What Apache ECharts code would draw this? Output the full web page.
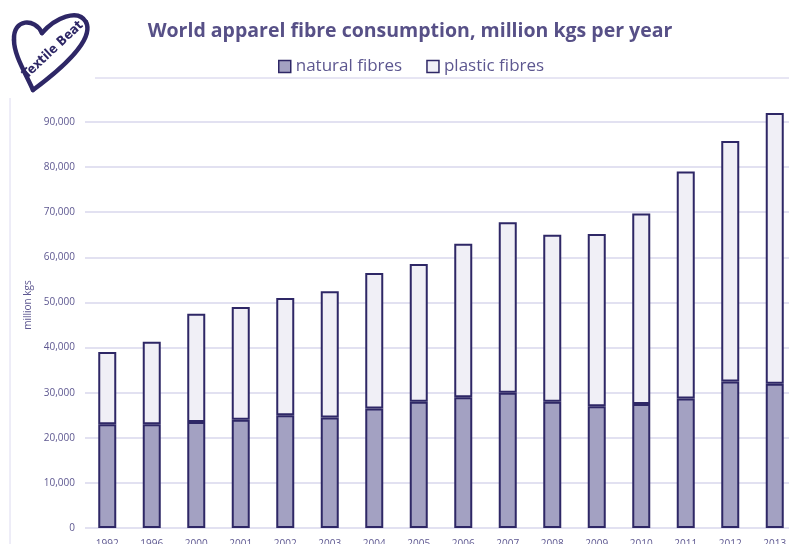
<!DOCTYPE html>
<html style="height: 100%">
<head>
<meta charset="utf-8">
<script type="text/javascript" src="https://cdn.jsdelivr.net/npm/echarts@6/dist/echarts.min.js"></script>
</head>
<body style="height: 100%; margin: 0; background: #fff">
<div id="container" style="width: 789px; height: 544px"></div>
<script type="text/javascript">
var years = ['1992', '1996', '2000', '2001', '2002', '2003', '2004', '2005',
  '2006', '2007', '2008', '2009', '2010', '2011', '2012', '2013'];
var natural = [23000, 23000, 23500, 24000, 25000, 24500, 26500, 28000,
  29000, 30000, 28000, 27000, 27500, 28700, 32500, 32000];
var totals = [39000, 41300, 47500, 49000, 51000, 52500, 56500, 58500,
  63000, 67800, 65000, 65200, 69700, 79000, 85800, 92000];
var plastic = totals.map(function (t, i) { return t - natural[i]; });

var ink = '#2e2766';
var textCol = '#5d5790';

// heart logo outline, drawn as a few bezier pieces
var heart = [
  [33, 90, 14, 40, 25, 72, 14, 55],
  [14, 40, 42, 33, 13, 18, 35, 18],
  [42, 33, 86, 22, 55, 18, 78, 8],
  [86, 22, 33, 90, 95, 40, 60, 70]
];
var logo = heart.map(function (c) {
  return {
    type: 'bezierCurve',
    shape: { x1: c[0], y1: c[1], x2: c[2], y2: c[3], cpx1: c[4], cpy1: c[5], cpx2: c[6], cpy2: c[7] },
    style: { stroke: ink, lineWidth: 4.5, fill: null, lineCap: 'round' }
  };
});

var dom = document.getElementById('container');
var myChart = echarts.init(dom);
var option = {
  animation: false,
  textStyle: { fontFamily: 'Open Sans' },
  title: {
    text: 'World apparel fibre consumption, million kgs per year',
    left: 405, top: 16, textAlign: 'center',
    textStyle: { color: '#575087', fontSize: 19.5, fontWeight: 'bold', fontFamily: 'Open Sans' }
  },
  legend: {
    top: 53, left: 273,
    icon: 'rect',
    itemWidth: 12, itemHeight: 12, itemGap: 24,
    textStyle: { color: textCol, fontSize: 17, fontFamily: 'Open Sans' },
    data: [
      { name: 'natural fibres', itemStyle: { color: '#a3a1c2', borderColor: ink, borderWidth: 1.5 } },
      { name: 'plastic fibres', itemStyle: { color: '#f0eff6', borderColor: ink, borderWidth: 1.5 } }
    ]
  },
  grid: { left: 85, top: 122, width: 712, height: 406, outerBoundsMode: 'none' },
  xAxis: {
    type: 'category',
    data: years,
    axisLine: { show: false },
    axisTick: { show: false },
    axisLabel: { color: textCol, fontSize: 10, margin: 11, fontFamily: 'Open Sans' }
  },
  yAxis: {
    type: 'value',
    min: 0, max: 90000, interval: 10000,
    name: 'million kgs',
    nameLocation: 'middle',
    nameGap: 50,
    nameRotate: 90,
    nameTextStyle: { color: textCol, fontSize: 10, fontFamily: 'Open Sans', padding: [0, 0, 0, 40] },
    axisLabel: {
      color: textCol, fontSize: 10, margin: 10, fontFamily: 'Open Sans',
      formatter: function (v) { return v.toLocaleString('en-US'); }
    },
    splitLine: { lineStyle: { color: '#d9d7ec', width: 1.5 } }
  },
  series: [
    {
      name: 'natural fibres', type: 'bar', stack: 'f', barWidth: 18, clip: false,
      data: natural,
      itemStyle: { color: '#a3a1c2', borderColor: ink, borderWidth: 2 }
    },
    {
      name: 'plastic fibres', type: 'bar', stack: 'f', barWidth: 18, clip: false,
      data: plastic,
      itemStyle: { color: '#f0eff6', borderColor: ink, borderWidth: 2 }
    }
  ],
  graphic: [
    { type: 'line', shape: { x1: 95, y1: 78, x2: 789, y2: 78 }, style: { stroke: '#cfcce8', lineWidth: 1 } },
    { type: 'line', shape: { x1: 10, y1: 98, x2: 10, y2: 544 }, style: { stroke: '#dcdaf0', lineWidth: 1 } },
    {
      type: 'text', x: 53, y: 50, rotation: 0.75,
      style: {
        text: 'Textile Beat', fill: ink, fontSize: 13, fontWeight: 'bold',
        fontFamily: 'DejaVu Sans Condensed', align: 'center', verticalAlign: 'middle'
      }
    }
  ].concat(logo)
};
myChart.setOption(option);
</script>
</body>
</html>
